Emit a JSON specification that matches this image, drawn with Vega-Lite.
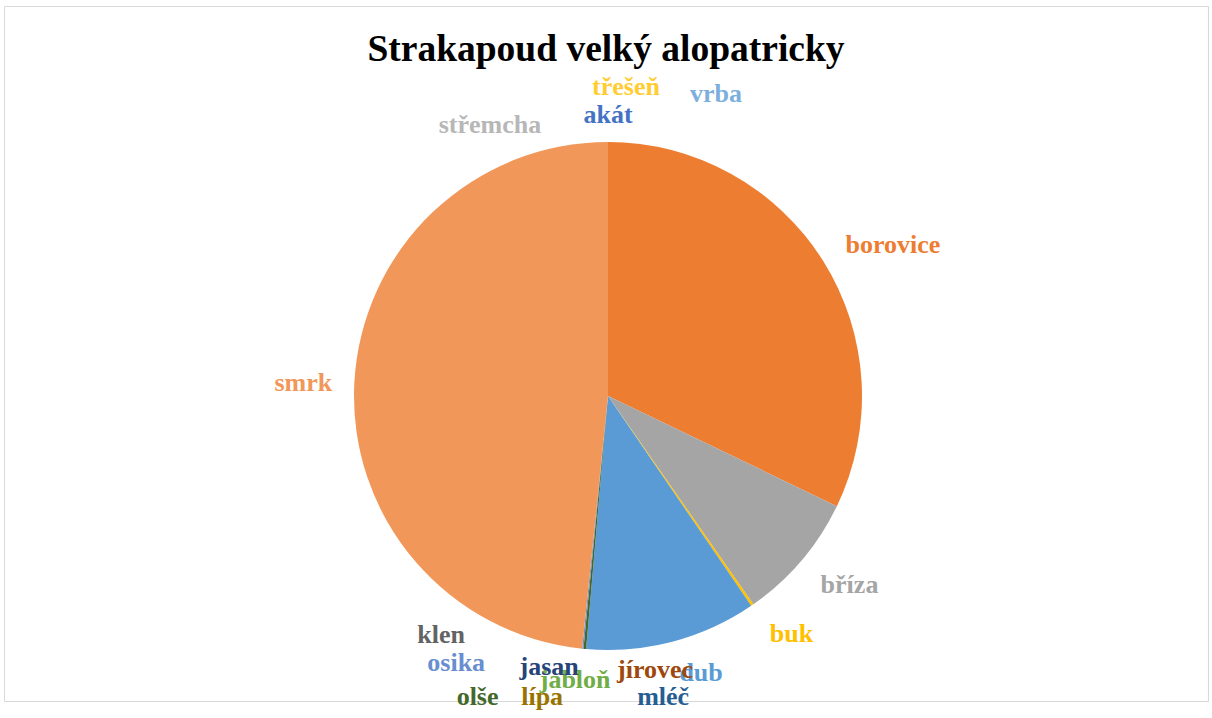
{
  "$schema": "https://vega.github.io/schema/vega-lite/v6.json",
  "width": 1212,
  "height": 718,
  "autosize": {"type": "fit", "contains": "padding"},
  "padding": {"left": 4, "top": 6, "right": 4, "bottom": 4},
  "background": "white",
  "title": {
    "text": "Strakapoud velký alopatricky",
    "font": "Liberation Serif",
    "fontSize": 37.5,
    "fontWeight": "bold",
    "color": "#000000",
    "anchor": "middle",
    "frame": "group",
    "baseline": "alphabetic",
    "offset": -92
  },
  "config": {"view": {"stroke": "#d9d9d9", "strokeWidth": 1}},
  "data": {
    "values": [
      {"druh": "akát", "pocet": 0},
      {"druh": "borovice", "pocet": 386},
      {"druh": "bříza", "pocet": 98},
      {"druh": "buk", "pocet": 2},
      {"druh": "dub", "pocet": 131},
      {"druh": "jabloň", "pocet": 0},
      {"druh": "jasan", "pocet": 0},
      {"druh": "jírovec", "pocet": 0},
      {"druh": "klen", "pocet": 0},
      {"druh": "lípa", "pocet": 0},
      {"druh": "mléč", "pocet": 0},
      {"druh": "olše", "pocet": 2},
      {"druh": "osika", "pocet": 1},
      {"druh": "smrk", "pocet": 581},
      {"druh": "střemcha", "pocet": 0},
      {"druh": "třešeň", "pocet": 0},
      {"druh": "vrba", "pocet": 0}
    ]
  },
  "transform": [{"window": [{"op": "row_number", "as": "poradi"}]}],
  "encoding": {
    "theta": {"field": "pocet", "type": "quantitative", "stack": true},
    "order": {"field": "poradi", "type": "quantitative"},
    "x": {"value": 604},
    "y": {"value": 390},
    "color": {
      "field": "druh",
      "type": "nominal",
      "legend": null,
      "scale": {
        "domain": ["akát", "borovice", "bříza", "buk", "dub", "jabloň", "jasan", "jírovec", "klen", "lípa", "mléč", "olše", "osika", "smrk", "střemcha", "třešeň", "vrba"],
        "range": ["#4472C4", "#ED7D31", "#A5A5A5", "#FFC000", "#5B9BD5", "#70AD47", "#264478", "#9E480E", "#636363", "#997300", "#255E91", "#43682B", "#698ED0", "#F1975A", "#B7B7B7", "#FFCD33", "#7CAFDD"]
      }
    }
  },
  "layer": [
    {"mark": {"type": "arc", "outerRadius": 254, "stroke": null}},
    {"mark": {"type": "text", "radius": 300, "font": "Liberation Serif", "fontWeight": "bold", "fontSize": 26, "align": "center", "baseline": "alphabetic", "dx": 0, "dy": 27},
     "encoding": {"text": {"condition": {"test": "datum.druh === 'akát'", "field": "druh"}, "value": ""}}},
    {"mark": {"type": "text", "radius": 300, "font": "Liberation Serif", "fontWeight": "bold", "fontSize": 26, "align": "center", "baseline": "alphabetic", "dx": 18, "dy": -1},
     "encoding": {"text": {"condition": {"test": "datum.druh === 'třešeň'", "field": "druh"}, "value": ""}}},
    {"mark": {"type": "text", "radius": 300, "font": "Liberation Serif", "fontWeight": "bold", "fontSize": 26, "align": "center", "baseline": "alphabetic", "dx": 108, "dy": 6},
     "encoding": {"text": {"condition": {"test": "datum.druh === 'vrba'", "field": "druh"}, "value": ""}}},
    {"mark": {"type": "text", "radius": 300, "font": "Liberation Serif", "fontWeight": "bold", "fontSize": 26, "align": "center", "baseline": "alphabetic", "dx": -118, "dy": 37},
     "encoding": {"text": {"condition": {"test": "datum.druh === 'střemcha'", "field": "druh"}, "value": ""}}},
    {"mark": {"type": "text", "radius": 300, "font": "Liberation Serif", "fontWeight": "bold", "fontSize": 26, "align": "center", "baseline": "alphabetic", "dx": 31, "dy": 17},
     "encoding": {"text": {"condition": {"test": "datum.druh === 'borovice'", "field": "druh"}, "value": ""}}},
    {"mark": {"type": "text", "radius": 300, "font": "Liberation Serif", "fontWeight": "bold", "fontSize": 26, "align": "center", "baseline": "alphabetic", "dx": 13, "dy": 3},
     "encoding": {"text": {"condition": {"test": "datum.druh === 'bříza'", "field": "druh"}, "value": ""}}},
    {"mark": {"type": "text", "radius": 300, "font": "Liberation Serif", "fontWeight": "bold", "fontSize": 26, "align": "center", "baseline": "alphabetic", "dx": 13, "dy": -1},
     "encoding": {"text": {"condition": {"test": "datum.druh === 'buk'", "field": "druh"}, "value": ""}}},
    {"mark": {"type": "text", "radius": 300, "font": "Liberation Serif", "fontWeight": "bold", "fontSize": 26, "align": "center", "baseline": "alphabetic", "dx": 17, "dy": -5},
     "encoding": {"text": {"condition": {"test": "datum.druh === 'dub'", "field": "druh"}, "value": ""}}},
    {"mark": {"type": "text", "radius": 300, "font": "Liberation Serif", "fontWeight": "bold", "fontSize": 26, "align": "center", "baseline": "alphabetic", "dx": -7, "dy": -7},
     "encoding": {"text": {"condition": {"test": "datum.druh === 'jabloň'", "field": "druh"}, "value": ""}}},
    {"mark": {"type": "text", "radius": 300, "font": "Liberation Serif", "fontWeight": "bold", "fontSize": 26, "align": "center", "baseline": "alphabetic", "dx": -33, "dy": -20},
     "encoding": {"text": {"condition": {"test": "datum.druh === 'jasan'", "field": "druh"}, "value": ""}}},
    {"mark": {"type": "text", "radius": 300, "font": "Liberation Serif", "fontWeight": "bold", "fontSize": 26, "align": "center", "baseline": "alphabetic", "dx": 73, "dy": -17},
     "encoding": {"text": {"condition": {"test": "datum.druh === 'jírovec'", "field": "druh"}, "value": ""}}},
    {"mark": {"type": "text", "radius": 300, "font": "Liberation Serif", "fontWeight": "bold", "fontSize": 26, "align": "center", "baseline": "alphabetic", "dx": -141, "dy": -52},
     "encoding": {"text": {"condition": {"test": "datum.druh === 'klen'", "field": "druh"}, "value": ""}}},
    {"mark": {"type": "text", "radius": 300, "font": "Liberation Serif", "fontWeight": "bold", "fontSize": 26, "align": "center", "baseline": "alphabetic", "dx": -40, "dy": 10},
     "encoding": {"text": {"condition": {"test": "datum.druh === 'lípa'", "field": "druh"}, "value": ""}}},
    {"mark": {"type": "text", "radius": 300, "font": "Liberation Serif", "fontWeight": "bold", "fontSize": 26, "align": "center", "baseline": "alphabetic", "dx": 81, "dy": 10},
     "encoding": {"text": {"condition": {"test": "datum.druh === 'mléč'", "field": "druh"}, "value": ""}}},
    {"mark": {"type": "text", "radius": 300, "font": "Liberation Serif", "fontWeight": "bold", "fontSize": 26, "align": "center", "baseline": "alphabetic", "dx": -103, "dy": 10},
     "encoding": {"text": {"condition": {"test": "datum.druh === 'olše'", "field": "druh"}, "value": ""}}},
    {"mark": {"type": "text", "radius": 300, "font": "Liberation Serif", "fontWeight": "bold", "fontSize": 26, "align": "center", "baseline": "alphabetic", "dx": -122, "dy": -24},
     "encoding": {"text": {"condition": {"test": "datum.druh === 'osika'", "field": "druh"}, "value": ""}}},
    {"mark": {"type": "text", "radius": 300, "font": "Liberation Serif", "fontWeight": "bold", "fontSize": 26, "align": "center", "baseline": "alphabetic", "dx": -5, "dy": 10},
     "encoding": {"text": {"condition": {"test": "datum.druh === 'smrk'", "field": "druh"}, "value": ""}}}
  ]
}
